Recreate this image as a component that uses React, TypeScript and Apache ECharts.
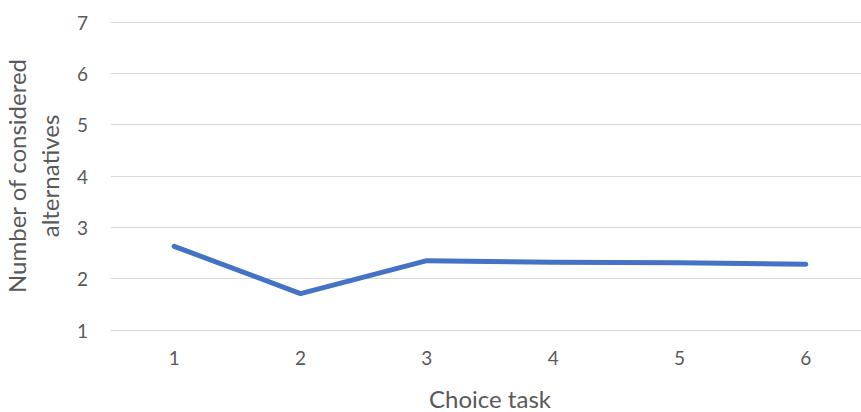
import React, { useEffect, useRef } from "react";
import * as echarts from "echarts";

const tasks = ["1", "2", "3", "4", "5", "6"];
const consideredAlternatives = [2.63, 1.71, 2.35, 2.32, 2.31, 2.28];

export default function App() {
  const ref = useRef<HTMLDivElement>(null);

  useEffect(() => {
    const chart = echarts.init(ref.current!, null, { renderer: "svg" });
    const font = "Lato, 'Open Sans', sans-serif";
    chart.setOption({
      animation: false,
      textStyle: { fontFamily: font },
      grid: {
        left: 111,
        top: 22,
        width: 758,
        height: 308,
        containLabel: false,
        outerBoundsMode: "none",
      },
      xAxis: {
        type: "category",
        data: tasks,
        boundaryGap: true,
        axisLine: { show: true, lineStyle: { color: "#d9d9d9", width: 1 } },
        axisTick: { show: false },
        axisLabel: { color: "#595959", fontSize: 19, margin: 18, fontFamily: font },
        name: "Choice task",
        nameLocation: "middle",
        nameGap: 56,
        nameTextStyle: { color: "#595959", fontSize: 24, fontFamily: font },
      },
      yAxis: {
        type: "value",
        min: 1,
        max: 7,
        interval: 1,
        axisLine: { show: false },
        axisTick: { show: false },
        splitLine: { lineStyle: { color: "#d9d9d9", width: 1 } },
        axisLabel: { color: "#595959", fontSize: 19, margin: 23, fontFamily: font },
        name: "Number of considered\nalternatives",
        nameLocation: "middle",
        nameGap: 44,
        nameTextStyle: { color: "#595959", fontSize: 24, lineHeight: 33, fontFamily: font },
      },
      series: [
        {
          type: "line",
          data: consideredAlternatives,
          symbol: "none",
          lineStyle: { color: "#4472c4", width: 5, cap: "round", join: "round" },
        },
      ],
    });
    return () => chart.dispose();
  }, []);

  return (
    <div
      ref={ref}
      style={{ position: "absolute", left: 0, top: 0, width: 861, height: 412 }}
    />
  );
}
